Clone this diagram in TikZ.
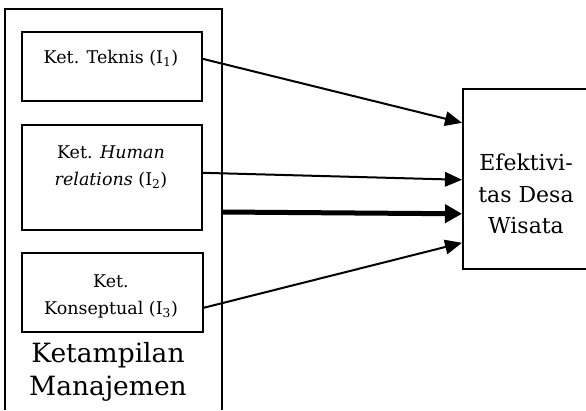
\documentclass[tikz,border=0pt]{standalone}
\usepackage{fontspec}
\setmainfont{DejaVu Serif}
\usetikzlibrary{arrows.meta}
\tikzset{
  box/.style={draw, line width=1.6pt, anchor=north west, inner sep=0pt},
  small/.style={anchor=base, inner sep=0pt, font=\fontsize{17.5}{21}\selectfont},
  big/.style={anchor=base, inner sep=0pt, font=\fontsize{26.5}{32}\selectfont},
  mid/.style={anchor=base, inner sep=0pt, font=\fontsize{22}{27}\selectfont},
  arr/.style={line width=2pt, -{Triangle[length=17pt,width=14.5pt]}},
  thickarr/.style={line width=5pt, -{Triangle[length=17pt,width=18pt]}}
}
\begin{document}
\begin{tikzpicture}[x=1pt,y=1pt]
\useasboundingbox (0,0) rectangle (586,-410);
% outer frame (open at bottom)
\draw[line width=1.6pt] (5,-410) -- (5,-9) -- (222,-9) -- (222,-410);
% inner boxes
\node[box, minimum width=180pt, minimum height=69pt] (b1) at (21,-31) {};
\node[box, minimum width=180pt, minimum height=105pt] (b2) at (21,-124) {};
\node[box, minimum width=181pt, minimum height=79pt] (b3) at (21,-252) {};
% right box
\node[box, minimum width=123.5pt, minimum height=180pt] (eff) at (462,-88) {};
% texts
\node[small] (t1) at (111,-63) {Ket. Teknis (I\textsubscript{1})};
\node[small] (t2a) at (111,-158) {Ket. \textit{Human}};
\node[small] (t2b) at (111,-185) {\textit{relations} (I\textsubscript{2})};
\node[small] (t3a) at (111,-287) {Ket.};
\node[small] (t3b) at (111,-314) {Konseptual (I\textsubscript{3})};
\node[big] (k1) at (108,-362) {Ketampilan};
\node[big] (k2) at (108,-395) {Manajemen};
\node[mid] (e1) at (526,-170) {Efektivi-};
\node[mid] (e2) at (526,-202) {tas Desa};
\node[mid] (e3) at (526,-233) {Wisata};
% thick arrow start on frame
\coordinate (fr) at (222,-212);
% connectors
\draw[arr] ([yshift=7.5pt]b1.east) -- ([yshift=56pt]eff.west);
\draw[arr] ([yshift=4.5pt]b2.east) -- ([yshift=-1pt]eff.west);
\draw[thickarr] (fr) -- ([yshift=-35pt]eff.west);
\draw[arr] ([yshift=-15.5pt]b3.east) -- ([yshift=-64pt]eff.west);
\end{tikzpicture}
\end{document}
